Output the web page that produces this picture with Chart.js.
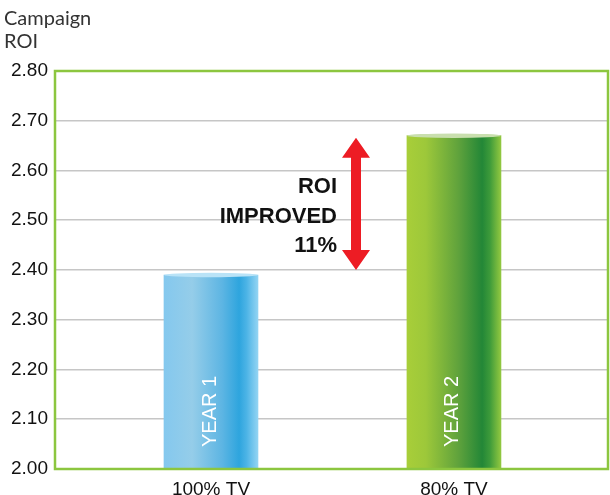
<!DOCTYPE html>
<html>
<head>
<meta charset="utf-8">
<script src="https://cdn.jsdelivr.net/npm/chart.js@4/dist/chart.umd.min.js"></script>
<style>
  html, body { margin: 0; padding: 0; background: #ffffff; }
  #wrap { width: 610px; height: 495px; }
</style>
</head>
<body>
<div id="wrap"><canvas id="c" width="610" height="495"></canvas></div>
<script>
// ---- data ----
const categories = ['100% TV', '80% TV'];
const barLabels = ['YEAR 1', 'YEAR 2'];
const roiValues = [2.39, 2.67];
const yTicks = [2.0, 2.1, 2.2, 2.3, 2.4, 2.5, 2.6, 2.7, 2.8];
const axisTitle = ['Campaign', 'ROI'];
const noteLines = ['ROI', 'IMPROVED', '11%'];

const HALF = 47;
const gradStops = [
  [[0, '#84c8ee'], [0.3, '#95cde9'], [0.62, '#5db5e3'], [0.8, '#2ea5de'], [0.88, '#4db4e6'], [1, '#93d4f3']],
  [[0, '#a8ce39'], [0.2, '#9dc83a'], [0.55, '#5fa23c'], [0.8, '#238737'], [0.88, '#3c9a3a'], [1, '#92c840']]
];
const capColors = ['#b9e3f7', '#c9dfae'];

function barGradient(ctx) {
  const chart = ctx.chart;
  const xs = chart.scales.x;
  if (!xs || !chart.chartArea) return '#888';
  const cx = xs.getPixelForValue(ctx.dataIndex + 1);
  const g = chart.ctx.createLinearGradient(cx - HALF, 0, cx + HALF, 0);
  gradStops[ctx.dataIndex].forEach(s => g.addColorStop(s[0], s[1]));
  return g;
}

const decor = {
  id: 'decor',
  afterDatasetsDraw(chart) {
    const c = chart.ctx;
    const ys = chart.scales.y;
    const ca = chart.chartArea;
    const meta = chart.getDatasetMeta(0);
    meta.data.forEach((el, i) => {
      c.save();
      c.beginPath();
      c.ellipse(el.x, el.y, HALF, 2.2, 0, 0, Math.PI * 2);
      c.fillStyle = capColors[i];
      c.fill();
      c.restore();
      c.save();
      c.translate(el.x - 1, ys.bottom - 22);
      c.rotate(-Math.PI / 2);
      c.fillStyle = '#ffffff';
      c.font = '20px "Liberation Sans", Arial, sans-serif';
      c.textAlign = 'left';
      c.textBaseline = 'middle';
      c.fillText(barLabels[i], 0, 0);
      c.restore();
    });
    c.save();
    c.strokeStyle = '#8cc63f';
    c.lineWidth = 2.5;
    c.strokeRect(ca.left, ca.top, ca.right - ca.left, ca.bottom - ca.top);
    c.restore();
    const ax = 356;
    const yTop = ys.getPixelForValue(roiValues[1]) + 2;
    const yBot = ys.getPixelForValue(roiValues[0]) - 5;
    const headL = 20, headW = 14, shaft = 5;
    c.save();
    c.fillStyle = '#ed1c24';
    c.beginPath();
    c.moveTo(ax, yTop);
    c.lineTo(ax + headW, yTop + headL);
    c.lineTo(ax + shaft, yTop + headL);
    c.lineTo(ax + shaft, yBot - headL);
    c.lineTo(ax + headW, yBot - headL);
    c.lineTo(ax, yBot);
    c.lineTo(ax - headW, yBot - headL);
    c.lineTo(ax - shaft, yBot - headL);
    c.lineTo(ax - shaft, yTop + headL);
    c.lineTo(ax - headW, yTop + headL);
    c.closePath();
    c.fill();
    c.restore();
    c.save();
    c.fillStyle = '#111111';
    c.font = 'bold 22px "Liberation Sans", Arial, sans-serif';
    c.textAlign = 'right';
    c.textBaseline = 'alphabetic';
    noteLines.forEach((t, i) => c.fillText(t, 337, 193 + i * 29.5));
    c.restore();
  },
  afterDraw(chart) {
    const c = chart.ctx;
    c.save();
    c.fillStyle = '#333333';
    c.font = '20px Lato, "Liberation Sans", sans-serif';
    c.textAlign = 'left';
    c.textBaseline = 'alphabetic';
    axisTitle.forEach((t, i) => c.fillText(t, 4, 25 + i * 23));
    c.restore();
  }
};

new Chart(document.getElementById('c'), {
  type: 'bar',
  data: {
    datasets: [{
      data: roiValues.map((v, i) => ({ x: i + 1, y: v })),
      backgroundColor: barGradient,
      borderWidth: 0,
      barThickness: 94
    }]
  },
  options: {
    responsive: false,
    animation: false,
    devicePixelRatio: 1,
    layout: { padding: { top: 71, right: 2, left: 0, bottom: 0 } },
    plugins: { legend: { display: false }, tooltip: { enabled: false } },
    scales: {
      x: {
        type: 'linear',
        offset: false,
        bounds: 'data',
        min: 0.358,
        max: 2.634,
        afterBuildTicks(s) { s.ticks = categories.map((_, i) => ({ value: i + 1 })); },
        afterFit(s) { s.height = 26; },
        grid: { display: false, offset: false },
        border: { display: false },
        ticks: {
          callback: v => categories[v - 1] || '',
          color: '#111111',
          font: { size: 19, family: '"Liberation Sans", Arial, sans-serif' },
          padding: 1,
          maxRotation: 0,
          autoSkip: false
        }
      },
      y: {
        min: 2.0,
        max: 2.8,
        afterBuildTicks(s) { s.ticks = yTicks.map(v => ({ value: v })); },
        afterFit(s) { s.width = 55; },
        grid: { color: '#c6c6c6', lineWidth: 1.5, drawTicks: false },
        border: { display: false },
        ticks: {
          callback: v => Number(v).toFixed(2),
          color: '#111111',
          font: { size: 19, family: '"Liberation Sans", Arial, sans-serif' },
          padding: 7
        }
      }
    }
  },
  plugins: [decor]
});
</script>
</body>
</html>
